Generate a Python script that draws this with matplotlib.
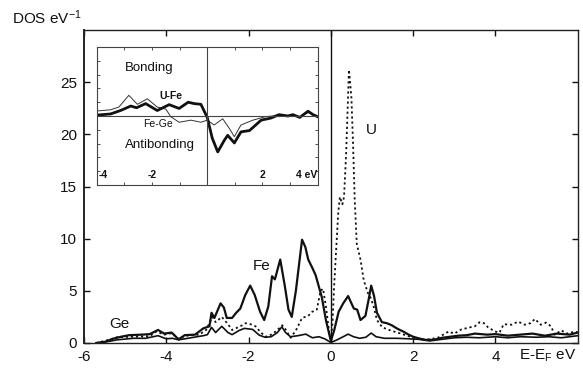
import matplotlib
matplotlib.use("Agg")
import matplotlib.pyplot as plt

plt.rcParams['font.family'] = ['Liberation Sans', 'DejaVu Sans']
plt.rcParams['mathtext.default'] = 'regular'

# ---------------- main panel data ----------------
fe_x = [-5.7, -5.5, -5.3, -5.1, -4.9, -4.6, -4.4, -4.2, -4.05, -3.87, -3.7, -3.55, -3.3, -3.1,
        -2.95, -2.9, -2.83, -2.68, -2.6, -2.53, -2.4, -2.3, -2.2, -2.08, -1.96, -1.85, -1.72,
        -1.62, -1.52, -1.43, -1.36, -1.23, -1.12, -1.03, -0.95, -0.85, -0.70, -0.62, -0.55,
        -0.45, -0.37, -0.22, -0.12, 0.0, 0.08, 0.19, 0.3, 0.42, 0.5, 0.56, 0.64, 0.72, 0.84,
        0.92, 0.98, 1.05, 1.12, 1.24, 1.36, 1.48, 1.56, 1.65, 1.76, 1.89, 2.0, 2.13, 2.3, 2.5,
        2.7, 2.9, 3.1, 3.3, 3.5, 3.8, 4.0, 4.3, 4.6, 4.9, 5.2, 5.5, 5.8, 6.0]
fe_y = [0, 0.1, 0.4, 0.6, 0.75, 0.8, 0.85, 1.25, 0.9, 1.0, 0.35, 0.75, 0.8, 1.4,
        1.6, 2.9, 2.4, 3.8, 3.4, 2.4, 2.4, 2.9, 3.3, 4.6, 5.5, 4.6, 3.0,
        2.2, 3.5, 6.4, 6.1, 8.0, 5.5, 3.2, 2.5, 5.0, 9.9, 9.2, 8.0,
        7.2, 6.5, 4.4, 2.2, 0.2, 1.2, 3.0, 3.8, 4.5, 3.8, 3.3, 3.2, 2.2, 2.6,
        4.2, 5.5, 4.5, 2.9, 2.0, 1.9, 1.7, 1.5, 1.3, 1.1, 0.8, 0.6, 0.45, 0.3, 0.3,
        0.5, 0.6, 0.7, 0.75, 0.9, 0.8, 0.85, 0.7, 0.8, 0.9, 0.7, 0.9, 0.8, 1.0]

u_x = [-5.7, -5.4, -5.2, -4.8, -4.4, -4.24, -4.05, -3.85, -3.72, -3.5, -3.2, -3.03, -2.88,
       -2.8, -2.65, -2.5, -2.4, -2.2, -2.07, -1.95, -1.83, -1.7, -1.58, -1.45, -1.34, -1.18,
       -1.1, -0.98, -0.85, -0.7, -0.55, -0.45, -0.34, -0.25, -0.19, -0.12, -0.04, 0.0, 0.04,
       0.08, 0.13, 0.18, 0.22, 0.28, 0.32, 0.37, 0.44, 0.5, 0.54, 0.58, 0.63, 0.72, 0.80,
       0.90, 0.97, 1.04, 1.12, 1.25, 1.45, 1.7, 2.0, 2.3, 2.6, 2.86, 3.0, 3.17, 3.38, 3.5,
       3.62, 3.72, 3.82, 3.99, 4.1, 4.2, 4.39, 4.55, 4.71, 4.85, 4.96, 5.1, 5.23, 5.35, 5.44,
       5.6, 5.75, 5.93, 6.0]
u_y = [0, 0.3, 0.55, 0.6, 0.65, 1.1, 0.8, 0.95, 0.4, 0.7, 0.8, 1.25, 2.5,
       2.0, 2.5, 1.8, 1.25, 1.6, 1.9, 1.8, 1.6, 1.0, 0.6, 0.8, 1.1, 1.7,
       1.3, 0.5, 1.2, 2.4, 2.6, 3.0, 3.2, 5.0, 5.2, 3.5, 1.0, 0.2, 2.0,
       5.5, 9.0, 12.5, 14.0, 13.3, 14.0, 18.0, 26.2, 23.5, 19.0, 13.7, 9.5, 8.0, 6.0,
       4.8, 4.3, 3.5, 2.2, 1.5, 1.2, 0.9, 0.5, 0.3, 0.5, 1.1, 0.9, 1.3, 1.5, 1.6,
       2.0, 1.9, 1.5, 1.1, 1.0, 1.8, 1.75, 2.05, 1.75, 1.9, 2.3, 1.75, 1.95, 1.6, 0.8,
       1.2, 0.9, 1.1, 1.0]

ge_x = [-5.7, -5.4, -5.2, -4.8, -4.5, -4.2, -4.0, -3.85, -3.7, -3.4, -3.1, -3.0, -2.9, -2.8,
        -2.65, -2.5, -2.4, -2.23, -2.1, -1.9, -1.74, -1.6, -1.45, -1.3, -1.19, -1.1, -0.98,
        -0.8, -0.61, -0.45, -0.29, -0.15, 0.0, 0.15, 0.3, 0.42, 0.55, 0.7, 0.85, 0.98, 1.1,
        1.3, 1.6, 1.9, 2.13, 2.4, 2.7, 3.0, 3.3, 3.6, 4.0, 4.3, 4.6, 5.0, 5.3, 5.6, 6.0]
ge_y = [0, 0.15, 0.3, 0.45, 0.45, 0.7, 0.4, 0.45, 0.3, 0.5, 0.7, 0.8, 1.5, 1.0,
        1.6, 1.0, 0.8, 1.2, 1.4, 1.3, 0.75, 0.55, 0.6, 1.0, 1.55, 1.0, 0.6,
        0.7, 0.85, 0.5, 0.6, 0.4, 0.05, 0.3, 0.6, 0.85, 0.6, 0.45, 0.55, 0.95, 0.6,
        0.45, 0.45, 0.4, 0.35, 0.2, 0.35, 0.5, 0.55, 0.5, 0.6, 0.5, 0.6, 0.55, 0.6, 0.5, 0.7]

x_ticks = [-6, -4, -2, 0, 2, 4]
y_ticks = [0, 5, 10, 15, 20, 25]

# ---------------- inset data (crystal orbital overlap) ----------------
ufe_x = [-4.1, -3.5, -3.14, -2.77, -2.56, -2.23, -1.81, -1.38, -1.02, -0.69, -0.47, -0.23,
         0.0, 0.18, 0.38, 0.62, 0.74, 0.98, 1.22, 1.53, 1.95, 2.3, 2.6, 2.92, 3.1, 3.35,
         3.65, 3.83, 4.0]
ufe_y = [0.01, 0.03, 0.08, 0.145, 0.12, 0.18, 0.08, 0.165, 0.11, 0.2, 0.18, 0.17,
         -0.02, -0.32, -0.52, -0.35, -0.28, -0.39, -0.23, -0.21, -0.06, -0.03, 0.02, 0.0,
         0.02, -0.02, 0.07, 0.02, -0.01]

fege_x = [-4.1, -3.5, -3.2, -2.84, -2.53, -2.17, -1.81, -1.5, -1.32, -1.02, -0.59, -0.23,
          0.0, 0.25, 0.56, 0.8, 0.98, 1.22, 1.65, 2.1, 2.6, 3.1, 3.35, 3.65, 3.83, 4.0]
fege_y = [0.07, 0.09, 0.13, 0.3, 0.17, 0.25, 0.13, 0.1, -0.01, -0.09, -0.06, -0.09,
          -0.06, -0.13, -0.04, -0.18, -0.3, -0.13, -0.06, -0.01, 0.01, 0.01, -0.01, 0.05,
          0.02, 0.0]

inset_tick_labels = ["-4", "-2", "2", "4 eV"]
inset_tick_pos = [-4, -2, 2, 4]

# ---------------- figure ----------------
fig = plt.figure(figsize=(5.83, 3.71), dpi=100)
ax = fig.add_axes([0.144, 0.0755, 0.847, 0.8435])

ink = "#111111"
ax.plot(fe_x, fe_y, color=ink, lw=1.6)
ax.plot(ge_x, ge_y, color=ink, lw=1.2)
ax.plot(u_x, u_y, color=ink, lw=1.3, linestyle=(0, (1.2, 1.6)))
ax.axvline(0, color=ink, lw=1.0)

ax.set_xlim(-6, 6)
ax.set_ylim(0, 30)
ax.set_xticks(x_ticks)
ax.set_xticklabels([str(t) for t in x_ticks])
ax.set_yticks(y_ticks)
ax.tick_params(direction='in', length=4, width=1, top=True, right=True,
               labelsize=11, colors=ink, pad=5)
for s in ax.spines.values():
    s.set_linewidth(1.0)
    s.set_color("#222222")
ax.spines['left'].set_linewidth(1.4)

fig.text(12 / 583, 1 - 18 / 371, "DOS eV$^{-1}$", fontsize=11, va='center', ha='left', color=ink)
ax.text(5.97, -1.25, "E-E$_F$ eV", fontsize=11, ha='right', va='center', color=ink)

ax.text(-1.69, 7.4, "Fe", fontsize=11, ha='center', va='center', color=ink)
ax.text(-5.13, 1.8, "Ge", fontsize=11, ha='center', va='center', color=ink)
ax.text(0.98, 20.4, "U", fontsize=11, ha='center', va='center', color=ink)

# ---------------- inset ----------------
ins = fig.add_axes([0.166, 0.5013, 0.379, 0.3719])
ins.plot(fege_x, fege_y, color="#333333", lw=0.7)
ins.plot(ufe_x, ufe_y, color=ink, lw=2.0)
ins.axhline(0, color="#444444", lw=0.8)
ins.axvline(0, color="#444444", lw=0.8)
ins.set_xlim(-4, 4)
ins.set_ylim(-1, 1)
ins.set_xticks([-4, -3, -2, -1, 0, 1, 2, 3, 4])
ins.set_yticks([-0.8, -0.6, -0.4, -0.2, 0.0, 0.2, 0.4, 0.6, 0.8])
ins.tick_params(direction='in', length=2.5, width=0.6, top=True, right=True,
                labelbottom=False, labelleft=False, colors="#333333")
for s in ins.spines.values():
    s.set_linewidth(0.8)
    s.set_color("#444444")

for p, lab in zip(inset_tick_pos, inset_tick_labels):
    ha = 'left' if p == -4 else ('right' if p == 4 else 'center')
    ins.text(p + (0.05 if p == -4 else 0), -0.93, lab, fontsize=7.5, fontweight='bold',
             ha=ha, va='bottom', color=ink)

ins.text(-2.1, 0.69, "Bonding", fontsize=9.5, ha='center', va='center', color=ink)
ins.text(-1.3, 0.29, "U-Fe", fontsize=7.5, fontweight='bold', ha='center', va='center', color=ink)
ins.text(-1.8, -0.12, "Fe-Ge", fontsize=7.5, ha='center', va='center', color=ink)
ins.text(-1.7, -0.42, "Antibonding", fontsize=9.5, ha='center', va='center', color=ink)

fig.savefig("out.png", dpi=100)
